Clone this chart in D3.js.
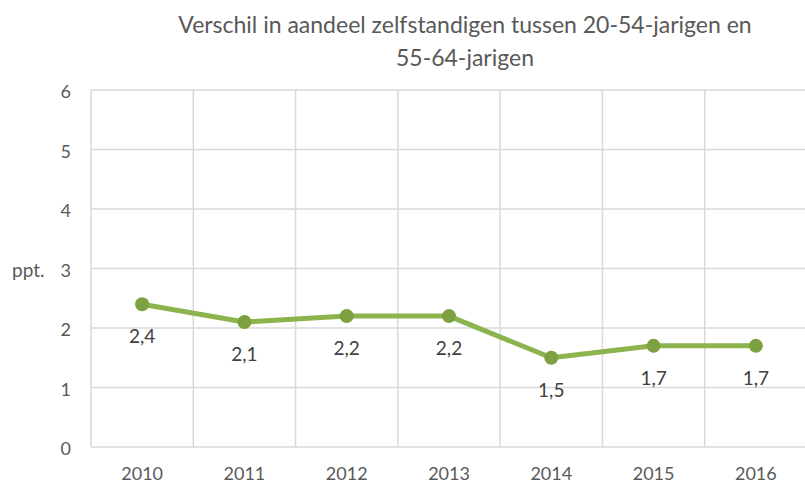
<!DOCTYPE html>
<html>
<head>
<meta charset="utf-8">
<script src="https://cdn.jsdelivr.net/npm/d3@7"></script>
<style>
  html, body { margin: 0; padding: 0; background: #fff; }
  svg { display: block; font-family: Lato, "Open Sans", sans-serif; }
</style>
</head>
<body>
<svg id="chart" width="805" height="484"></svg>
<script>
const years = ["2010", "2011", "2012", "2013", "2014", "2015", "2016"];
const verschil = [2.4, 2.1, 2.2, 2.2, 1.5, 1.7, 1.7];
const yTicks = [0, 1, 2, 3, 4, 5, 6];
const titleLines = ["Verschil in aandeel zelfstandigen tussen 20-54-jarigen en", "55-64-jarigen"];
const yLabel = "ppt.";

const svg = d3.select("#chart");
const plot = { left: 91, right: 807, top: 90, bottom: 447 };
const font = "Lato, 'Open Sans', sans-serif";

const x = d3.scaleBand().domain(years).range([plot.left, plot.right]);
const y = d3.scaleLinear().domain([0, 6]).range([plot.bottom, plot.top]);

const gridColor = "#d9d9d9";

// horizontal gridlines
svg.append("g")
  .selectAll("line")
  .data(yTicks)
  .join("line")
  .attr("x1", plot.left).attr("x2", plot.right)
  .attr("y1", d => y(d)).attr("y2", d => y(d))
  .attr("stroke", gridColor).attr("stroke-width", 1.5);

// vertical gridlines at category boundaries
const bounds = years.map(d => x(d)).concat([x(years[years.length - 1]) + x.bandwidth()]);
svg.append("g")
  .selectAll("line")
  .data(bounds)
  .join("line")
  .attr("x1", d => d).attr("x2", d => d)
  .attr("y1", plot.top).attr("y2", plot.bottom)
  .attr("stroke", gridColor).attr("stroke-width", 1.5);

// y-axis tick labels
const yAxis = d3.axisLeft(y).tickValues(yTicks).tickFormat(d3.format("d")).tickSize(0).tickPadding(20);
const gy = svg.append("g").attr("transform", `translate(${plot.left},0)`).call(yAxis);
gy.select(".domain").remove();
gy.selectAll("text").attr("fill", "#595959").attr("dy", "0.42em")
  .style("font-size", "18px").style("font-family", font);

// x-axis tick labels
const xAxis = d3.axisBottom(x).tickSize(0).tickPadding(20);
const gx = svg.append("g").attr("transform", `translate(0,${plot.bottom})`).call(xAxis);
gx.select(".domain").remove();
gx.selectAll("text").attr("fill", "#595959")
  .style("font-size", "18px").style("font-family", font);

// y-axis unit label
svg.append("text")
  .attr("x", 12).attr("y", y(3) + 8)
  .attr("fill", "#595959").style("font-size", "19px")
  .text(yLabel);

// title
svg.append("text")
  .attr("text-anchor", "middle")
  .attr("fill", "#595959")
  .style("font-size", "23px")
  .selectAll("tspan")
  .data(titleLines)
  .join("tspan")
  .attr("x", 465)
  .attr("y", (d, i) => 33 + i * 33)
  .text(d => d);

const cx = d => x(d) + x.bandwidth() / 2;
const pts = years.map((d, i) => ({ year: d, value: verschil[i] }));

// line
svg.append("path")
  .datum(pts)
  .attr("fill", "none")
  .attr("stroke", "#8db34e")
  .attr("stroke-width", 5)
  .attr("stroke-linejoin", "round")
  .attr("d", d3.line().x(p => cx(p.year)).y(p => y(p.value)));

// markers
svg.append("g")
  .selectAll("circle")
  .data(pts)
  .join("circle")
  .attr("cx", p => cx(p.year))
  .attr("cy", p => y(p.value))
  .attr("r", 7)
  .attr("fill", "#7da140");

// value labels below markers
const fmt = v => d3.format(".1f")(v).replace(".", ",");
svg.append("g")
  .selectAll("text")
  .data(pts)
  .join("text")
  .attr("x", p => cx(p.year))
  .attr("y", p => y(p.value) + 39)
  .attr("text-anchor", "middle")
  .attr("fill", "#404040")
  .style("font-size", "19px")
  .text(p => fmt(p.value));
</script>
</body>
</html>
